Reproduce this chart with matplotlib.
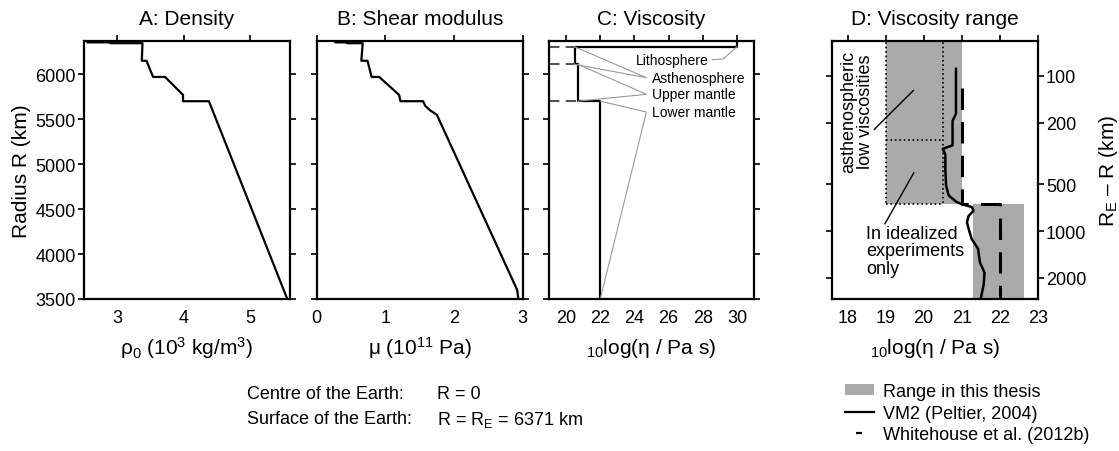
import matplotlib
matplotlib.use("Agg")
import matplotlib.pyplot as plt
from matplotlib.lines import Line2D
from matplotlib.patches import Patch
from matplotlib.ticker import NullLocator
import numpy as np

plt.rcParams['font.family'] = ['Liberation Sans', 'DejaVu Sans']
plt.rcParams['mathtext.fontset'] = 'custom'
plt.rcParams['mathtext.rm'] = 'Liberation Sans'
plt.rcParams['mathtext.it'] = 'Liberation Sans:italic'
plt.rcParams['mathtext.default'] = 'regular'
plt.rcParams['font.size'] = 13
plt.rcParams['axes.linewidth'] = 1.6

# ---- data ----
# A: density (10^3 kg/m^3) vs radius (km)
density_radius = [6371, 6356, 6356, 6346.6, 6346.6, 6151, 6151, 5971, 5971, 5771, 5701, 5701, 3480]
density_value = [2.55, 2.55, 2.90, 2.90, 3.38, 3.37, 3.44, 3.54, 3.72, 3.99, 3.99, 4.38, 5.57]

# B: shear modulus (10^11 Pa) vs radius (km)
shear_radius = [6371, 6356, 6356, 6346.6, 6346.6, 6151, 6151, 5971, 5971, 5771, 5701, 5701,
                5650, 5600, 5550, 3600, 3480]
shear_value = [0.27, 0.27, 0.44, 0.44, 0.67, 0.65, 0.74, 0.80, 0.91, 1.20, 1.22, 1.55,
               1.58, 1.65, 1.75, 2.92, 2.94]

# C: layered viscosity model
layer_names = ['Lithosphere', 'Asthenosphere', 'Upper mantle', 'Lower mantle']
layer_top_depth = [0, 65, 260, 670]
layer_bottom_depth = [65, 260, 670, 2891]
layer_visc = [30, 20.5, 20.7, 22]

# D: viscosity ranges
range_top_depth = [50, 670]
range_bottom_depth = [670, 2891]
range_min_visc = [19.0, 21.3]
range_max_visc = [21.0, 22.65]
idealized_visc = [19.0, 20.5]
idealized_split_depth = 260

vm2_depth = [90, 175, 195, 280, 295, 320, 400, 510, 590, 650, 670, 700, 740, 800, 880,
             1000, 1120, 1300, 1590, 1850, 2200, 2750]
vm2_visc = [20.85, 20.85, 20.76, 20.76, 20.50, 20.57, 20.57, 20.59, 20.66, 20.87, 21.0,
            21.27, 21.31, 21.18, 21.14, 21.20, 21.26, 21.43, 21.48, 21.60, 21.58, 21.50]

whitehouse_depth = [120, 670, 670, 2891]
whitehouse_visc = [21, 21, 22, 22]

R_E = 6371
GREY = '#aaaaaa'

W, H = 1119, 452
fig = plt.figure(figsize=(W / 100, H / 100), dpi=100)


def frame(l, t, r, b):
    return [l / W, 1 - b / H, (r - l) / W, (b - t) / H]


def style_axes(ax, label_left=False, label_right=False):
    ax.tick_params(axis='x', direction='out', length=4, width=1.2, top=True, bottom=False,
                   labelbottom=True, labeltop=False, pad=3, labelsize=13)
    ax.tick_params(axis='y', direction='out', length=4, width=1.2, left=True, right=True,
                   labelleft=label_left, labelright=label_right, pad=2, labelsize=13)


def title(ax, text):
    ax.text(0.5, 1 + 22 / 258, text, transform=ax.transAxes, ha='center', va='center', fontsize=15)


def xlabel(ax, text):
    ax.set_xlabel(text, fontsize=15)
    ax.xaxis.set_label_coords(0.5, -48 / 258)
    ax.xaxis.label.set_va('center')


# A: density
axA = fig.add_axes(frame(84, 42, 290, 300))
axA.plot(density_value, density_radius, color='k', lw=1.6)
axA.set_xlim(2.5, 5.6)
axA.set_ylim(3500, R_E)
axA.set_xticks([3, 4, 5])
axA.set_yticks([3500, 4000, 4500, 5000, 5500, 6000])
style_axes(axA, label_left=True)
title(axA, 'A: Density')
xlabel(axA, r'ρ$_0$ (10$^3$ kg/m$^3$)')
axA.set_ylabel('Radius R (km)', fontsize=15)
axA.yaxis.set_label_coords((21 - 84) / 206, 0.5)
axA.yaxis.label.set_va('center')

# B: shear modulus
axB = fig.add_axes(frame(316.7, 42, 522.7, 300))
axB.plot(shear_value, shear_radius, color='k', lw=1.6)
axB.set_xlim(0, 3)
axB.set_ylim(3500, R_E)
axB.set_xticks([0, 1, 2, 3])
axB.set_yticks([3500, 4000, 4500, 5000, 5500, 6000])
style_axes(axB)
title(axB, 'B: Shear modulus')
xlabel(axB, r'μ (10$^{11}$ Pa)')

# C: viscosity
axC = fig.add_axes(frame(549, 42, 754, 300))
axC.set_xlim(19, 31)
axC.set_ylim(3500, R_E)
step_x, step_y = [], []
for top, bot, v in zip(layer_top_depth, layer_bottom_depth, layer_visc):
    step_x += [v, v]
    step_y += [R_E - top, R_E - bot]
axC.plot(step_x, step_y, color='k', lw=1.6)
# dashed boundary markers
for i in range(1, len(layer_visc)):
    r = R_E - layer_top_depth[i]
    axC.plot([19, min(layer_visc[i - 1], layer_visc[i])], [r, r], color='#555555', lw=1.5,
             dashes=(5, 3))
# labels with connectors
lab_x = [28.35, 25.05, 25.05, 25.05]
lab_y = [6163, 5963, 5778, 5581]
conn = dict(color='#999999', lw=0.8)
axC.text(lab_x[0], lab_y[0], layer_names[0], ha='right', va='center', fontsize=10)
axC.plot([28.55, 29.2, layer_visc[0]], [lab_y[0], lab_y[0] + 8, R_E - layer_bottom_depth[0]], **conn)
for i in range(1, 4):
    axC.text(lab_x[i], lab_y[i], layer_names[i], ha='left', va='center', fontsize=10)
    r_top = R_E - layer_top_depth[i]
    r_bot = max(R_E - layer_bottom_depth[i], 3500)
    axC.plot([layer_visc[i], lab_x[i] - 0.35, layer_visc[i]], [r_top, lab_y[i], r_bot], **conn)
axC.set_xticks([20, 22, 24, 26, 28, 30])
axC.set_yticks([3500, 4000, 4500, 5000, 5500, 6000])
style_axes(axC)
title(axC, 'C: Viscosity')
xlabel(axC, r'$_{10}$log(η / Pa s)')

# D: viscosity range
axD = fig.add_axes(frame(831.7, 42, 1037.7, 300))
axD.set_yscale('log')
for top, bot, lo, hi in zip(range_top_depth, range_bottom_depth, range_min_visc, range_max_visc):
    axD.fill_betweenx([top, bot], lo, hi, color=GREY, lw=0)
dot = dict(color='k', lw=1.2, ls=':')
for v in idealized_visc:
    axD.plot([v, v], [range_top_depth[0], range_bottom_depth[0]], **dot)
axD.plot(idealized_visc, [idealized_split_depth] * 2, **dot)
axD.plot(idealized_visc, [range_bottom_depth[0]] * 2, **dot)
axD.plot(vm2_visc, vm2_depth, color='k', lw=1.8)
axD.plot(whitehouse_visc, whitehouse_depth, color='k', lw=2.2, dashes=(7, 4))
axD.text(18.24, 168, 'asthenospheric\nlow viscosities', rotation=90, ha='center', va='center',
         fontsize=13, linespacing=1.0)
axD.plot([18.70, 19.73], [221, 124], color='k', lw=1)
axD.text(18.48, 910, 'In idealized\nexperiments\nonly', ha='left', va='top', fontsize=13,
         linespacing=1.05)
axD.plot([18.98, 19.74], [897, 421], color='k', lw=1)
axD.set_xlim(17.58, 23)
axD.set_ylim(2740, 59.5)
axD.set_xticks([18, 19, 20, 21, 22, 23])
axD.set_yticks([100, 200, 500, 1000, 2000])
axD.set_yticklabels(['100', '200', '500', '1000', '2000'])
axD.yaxis.set_minor_locator(NullLocator())
style_axes(axD, label_right=True)
title(axD, 'D: Viscosity range')
xlabel(axD, r'$_{10}$log(η / Pa s)')
axD.set_ylabel(r'R$_E$ – R (km)', fontsize=15)
axD.yaxis.set_label_position('right')
axD.yaxis.set_label_coords((1108 - 831.7) / 206, 0.5)
axD.yaxis.label.set_va('center')

# notes
fig.text(246.7 / W, 1 - 395 / H, 'Centre of the Earth:', va='center', fontsize=13)
fig.text(437 / W, 1 - 395 / H, 'R = 0', va='center', fontsize=13)
fig.text(246.7 / W, 1 - 420 / H, 'Surface of the Earth:', va='center', fontsize=13)
fig.text(437 / W, 1 - 420 / H, r'R = R$_E$ = 6371 km', va='center', fontsize=13)

handles = [Patch(facecolor=GREY, edgecolor='none'),
           Line2D([], [], color='k', lw=1.6),
           Line2D([], [], color='k', ls='None', marker='_', markersize=5, markeredgewidth=1.6)]
labels = ['Range in this thesis', 'VM2 (Peltier, 2004)', 'Whitehouse et al. (2012b)']
fig.legend(handles, labels, loc='upper left', bbox_to_anchor=(845 / W, 1 - 384 / H),
           frameon=False, fontsize=13, borderpad=0, borderaxespad=0, handlelength=1.6,
           handleheight=0.5, handletextpad=0.5, labelspacing=0.25)

fig.savefig('out.png', dpi=100)
